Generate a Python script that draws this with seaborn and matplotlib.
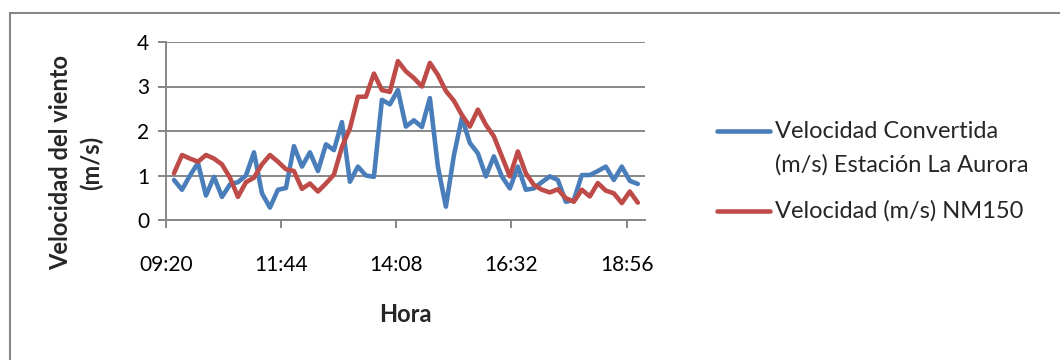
import matplotlib
matplotlib.use("Agg")
import matplotlib.pyplot as plt
from matplotlib.patches import Rectangle
from matplotlib.lines import Line2D
import pandas as pd
import seaborn as sns

# Sampling times (every 10 minutes, 09:30 to 19:10)
horas = pd.date_range("09:30", "19:10", freq="10min").strftime("%H:%M").tolist()

# Converted wind speed, La Aurora station (m/s)
vel_aurora = [0.90, 0.68, 1.00, 1.28, 0.55, 0.97, 0.52, 0.80, 0.85, 1.00,
              1.52, 0.60, 0.28, 0.68, 0.72, 1.66, 1.20, 1.52, 1.10, 1.70,
              1.57, 2.20, 0.86, 1.20, 1.00, 0.97, 2.70, 2.60, 2.92, 2.10,
              2.24, 2.09, 2.74, 1.20, 0.30, 1.45, 2.30, 1.73, 1.50, 0.98,
              1.43, 0.98, 0.71, 1.20, 0.68, 0.71, 0.85, 0.98, 0.90, 0.41,
              0.45, 1.01, 1.01, 1.10, 1.20, 0.90, 1.20, 0.88, 0.81]

# NM150 wind speed (m/s)
vel_nm150 = [1.05, 1.46, 1.38, 1.31, 1.46, 1.38, 1.25, 0.95, 0.52, 0.85,
             0.95, 1.25, 1.46, 1.31, 1.14, 1.10, 0.70, 0.82, 0.64, 0.82,
             1.02, 1.64, 2.06, 2.77, 2.77, 3.29, 2.92, 2.88, 3.57, 3.34,
             3.19, 3.00, 3.53, 3.26, 2.90, 2.68, 2.36, 2.10, 2.48, 2.14,
             1.88, 1.43, 0.98, 1.54, 1.05, 0.79, 0.68, 0.62, 0.69, 0.49,
             0.41, 0.68, 0.53, 0.83, 0.66, 0.60, 0.38, 0.64, 0.39]

serie_aurora = ["Velocidad Convertida", "(m/s) Estación La Aurora"]
serie_nm150 = "Velocidad (m/s) NM150"

x_ticks = ["09:20", "11:44", "14:08", "16:32", "18:56"]
y_ticks = [0, 1, 2, 3, 4]


def a_minutos(h):
    hh, mm = h.split(":")
    return int(hh) * 60 + int(mm)


minutos = [a_minutos(h) for h in horas]
df = pd.DataFrame({
    "minutos": minutos * 2,
    "velocidad": vel_aurora + vel_nm150,
    "serie": ["aurora"] * len(horas) + ["nm150"] * len(horas),
})

sns.set_theme(style="white")
plt.rcParams["font.family"] = ["Lato", "DejaVu Sans"]

GRIS = "#878787"
AZUL = "#4A7EBB"
ROJO = "#BE4B48"
W, H = 1060, 360


def fx(px):
    return px / W


def fy(py):
    return 1 - py / H


fig = plt.figure(figsize=(10.6, 3.6), dpi=100)
fig.patch.set_facecolor("white")

# Chart-area frame (runs off the right and bottom edges)
fig.patches.append(Rectangle((fx(9.5), -0.1), 1.2, fy(13) + 0.1,
                             transform=fig.transFigure, fill=False,
                             edgecolor=GRIS, linewidth=1.5))

ax = fig.add_axes([fx(166), fy(220), fx(645 - 166), (220 - 42) / H])

sns.lineplot(data=df, x="minutos", y="velocidad", hue="serie",
             palette=[AZUL, ROJO], linewidth=3.3, ax=ax, legend=False,
             solid_joinstyle="round", solid_capstyle="round", zorder=3)

ax.set_xlim(a_minutos("09:20"), a_minutos("09:20") + 599)
ax.set_ylim(0, 4)
ax.set_xticks([a_minutos(t) for t in x_ticks])
ax.set_xticklabels(x_ticks)
ax.set_yticks(y_ticks)
ax.set_yticklabels([str(v) for v in y_ticks])

ax.grid(axis="y", color=GRIS, linewidth=1.4)
ax.grid(axis="x", visible=False)
for side in ["top", "right"]:
    ax.spines[side].set_visible(False)
for side in ["left", "bottom"]:
    ax.spines[side].set_color(GRIS)
    ax.spines[side].set_linewidth(1.4)

ax.tick_params(axis="both", direction="out", length=6, width=1.4, color=GRIS,
               labelsize=15, labelcolor="black")
ax.tick_params(axis="x", pad=19, bottom=True)
ax.tick_params(axis="y", pad=6, left=True)
ax.set_xlabel("")
ax.set_ylabel("")

# Axis titles
fig.text(fx(405.5), fy(315), "Hora", fontsize=17, fontweight="bold",
         ha="center", va="center")
fig.text(fx(61), fy(163), "Velocidad del viento", fontsize=17,
         fontweight="bold", rotation=90, ha="center", va="center")
fig.text(fx(91), fy(163), "(m/s)", fontsize=17, fontweight="bold",
         rotation=90, ha="center", va="center")

# Legend
fig.add_artist(Line2D([fx(717), fx(770)], [fy(131), fy(131)], color=AZUL,
                      linewidth=3.3, solid_capstyle="round",
                      transform=fig.transFigure))
fig.add_artist(Line2D([fx(717), fx(770)], [fy(211), fy(211)], color=ROJO,
                      linewidth=3.3, solid_capstyle="round",
                      transform=fig.transFigure))
fig.text(fx(775), fy(131), serie_aurora[0], fontsize=17, ha="left", va="center")
fig.text(fx(775), fy(165), serie_aurora[1], fontsize=17, ha="left", va="center")
fig.text(fx(775), fy(211), serie_nm150, fontsize=17, ha="left", va="center")

fig.savefig("out.png", dpi=100, facecolor="white")
